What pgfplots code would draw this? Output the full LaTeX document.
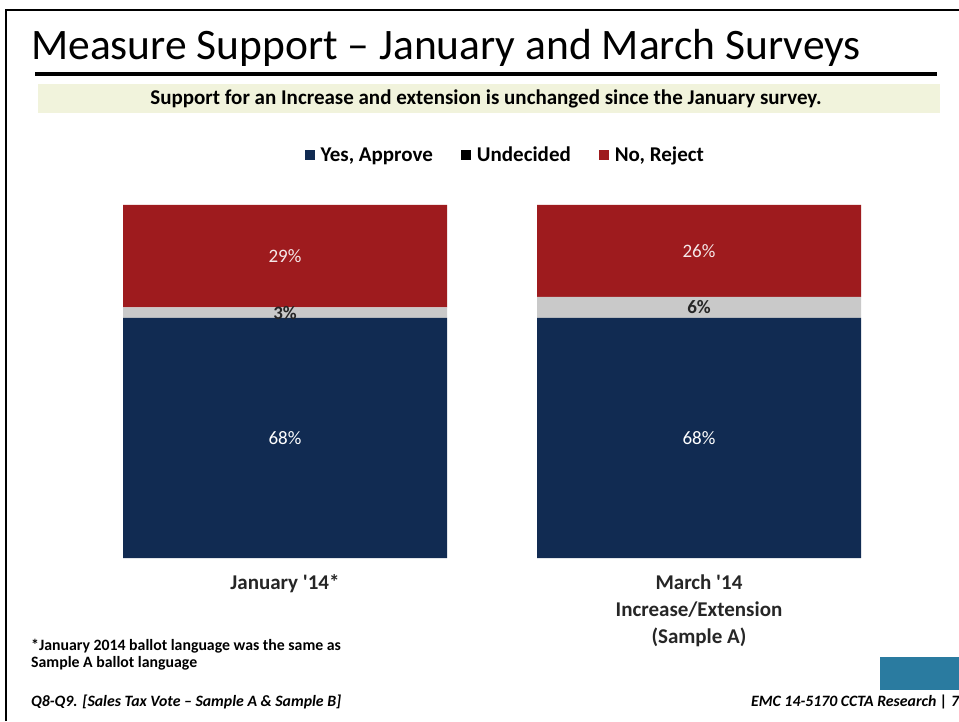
\documentclass[border=0pt]{standalone}
\usepackage{pgfplots}
\pgfplotsset{compat=1.18}
\usepackage{fontspec}
\setmainfont{Carlito}
\definecolor{navy}{HTML}{112B52}
\definecolor{rej}{HTML}{9E1B1E}
\definecolor{und}{HTML}{C9C9C9}
\definecolor{band}{HTML}{F1F3DC}
\definecolor{tag}{HTML}{2A7BA0}
\begin{document}
\begin{tikzpicture}[x=1pt,y=1pt]
\useasboundingbox (0,0) rectangle (959,721);
\fill[white] (0,0) rectangle (959,721);
% frame
\draw[line width=1.5pt] (6,0) -- (6,711) -- (959,711);
% title
\node[anchor=base west,inner sep=0] at (31,661) {\fontsize{43.5}{46}\selectfont Measure Support -- January and March Surveys};
\draw[line width=3.5pt] (35,647) -- (937,647);
\fill[band] (38,637) rectangle (940,608);
\node[inner sep=0] at (486,622) {\fontsize{21}{22}\selectfont\bfseries Support for an Increase and extension is unchanged since the January survey.};
% footnotes
\node[anchor=base west,inner sep=0,align=left] at (31,71) {\fontsize{15.8}{17}\selectfont\bfseries *January 2014 ballot language was the same as};
\node[anchor=base west,inner sep=0,align=left] at (31,54) {\fontsize{15.8}{17}\selectfont\bfseries Sample A ballot language};
\node[anchor=base west,inner sep=0] at (31,15) {\fontsize{15.8}{17}\selectfont\bfseries\itshape Q8-Q9. [Sales Tax Vote -- Sample A \& Sample B]};
\node[anchor=base west,inner sep=0] at (751,15) {\fontsize{15.8}{17}\selectfont\bfseries\itshape EMC 14-5170 CCTA Research | 7};
\fill[tag] (880,64) rectangle (959,31);
\begin{axis}[
  at={(78pt,163pt)}, anchor=south west,
  width=828pt, height=353pt, scale only axis,
  ybar stacked, bar width=324pt,
  xmin=-0.5, xmax=1.5, ymin=0, ymax=100,
  axis line style={draw=none},
  ytick=\empty, xtick={0,1}, major tick length=0pt,
  xticklabels={January \textquotesingle14*, {March \textquotesingle14\\Increase/Extension\\(Sample A)}},
  xticklabel style={align=center, font=\fontsize{21}{27}\selectfont\bfseries, text=black!85, anchor=north, yshift=-13pt},
  xtick style={draw=none},
  legend style={at={(0.516,1.1416)}, anchor=center, legend columns=3, draw=none, fill=none,
    font=\fontsize{21}{22}\selectfont\bfseries, /tikz/every odd column/.append style={column sep=4pt},
    /tikz/every even column/.append style={column sep=26pt}},
  legend image code/.code={\fill[#1] (0pt,-5pt) rectangle (10pt,5pt);},
  clip=false,
  after end axis/.code={
    \node[text=white, font=\fontsize{19}{20}\selectfont] at (axis cs:0,34) {68\%};
    \node[text=white, font=\fontsize{19}{20}\selectfont] at (axis cs:1,34) {68\%};
    \node[text=black!85, font=\fontsize{19}{20}\selectfont\bfseries] at (axis cs:0,69.5) {3\%};
    \node[text=black!85, font=\fontsize{19}{20}\selectfont\bfseries] at (axis cs:1,71) {6\%};
    \node[text=white!90!rej, font=\fontsize{19}{20}\selectfont] at (axis cs:0,85.5) {29\%};
    \node[text=white!90!rej, font=\fontsize{19}{20}\selectfont] at (axis cs:1,87) {26\%};
  },
]
\addplot[fill=navy, draw=none] coordinates {(0,68) (1,68)};
\addplot[fill=und, draw=none, legend image code/.code={\fill[black] (0pt,-5pt) rectangle (10pt,5pt);}] coordinates {(0,3) (1,6)};
\addplot[fill=rej, draw=none] coordinates {(0,29) (1,26)};
\legend{{Yes, Approve}, Undecided, {No, Reject}}
\end{axis}
\end{tikzpicture}
\end{document}
